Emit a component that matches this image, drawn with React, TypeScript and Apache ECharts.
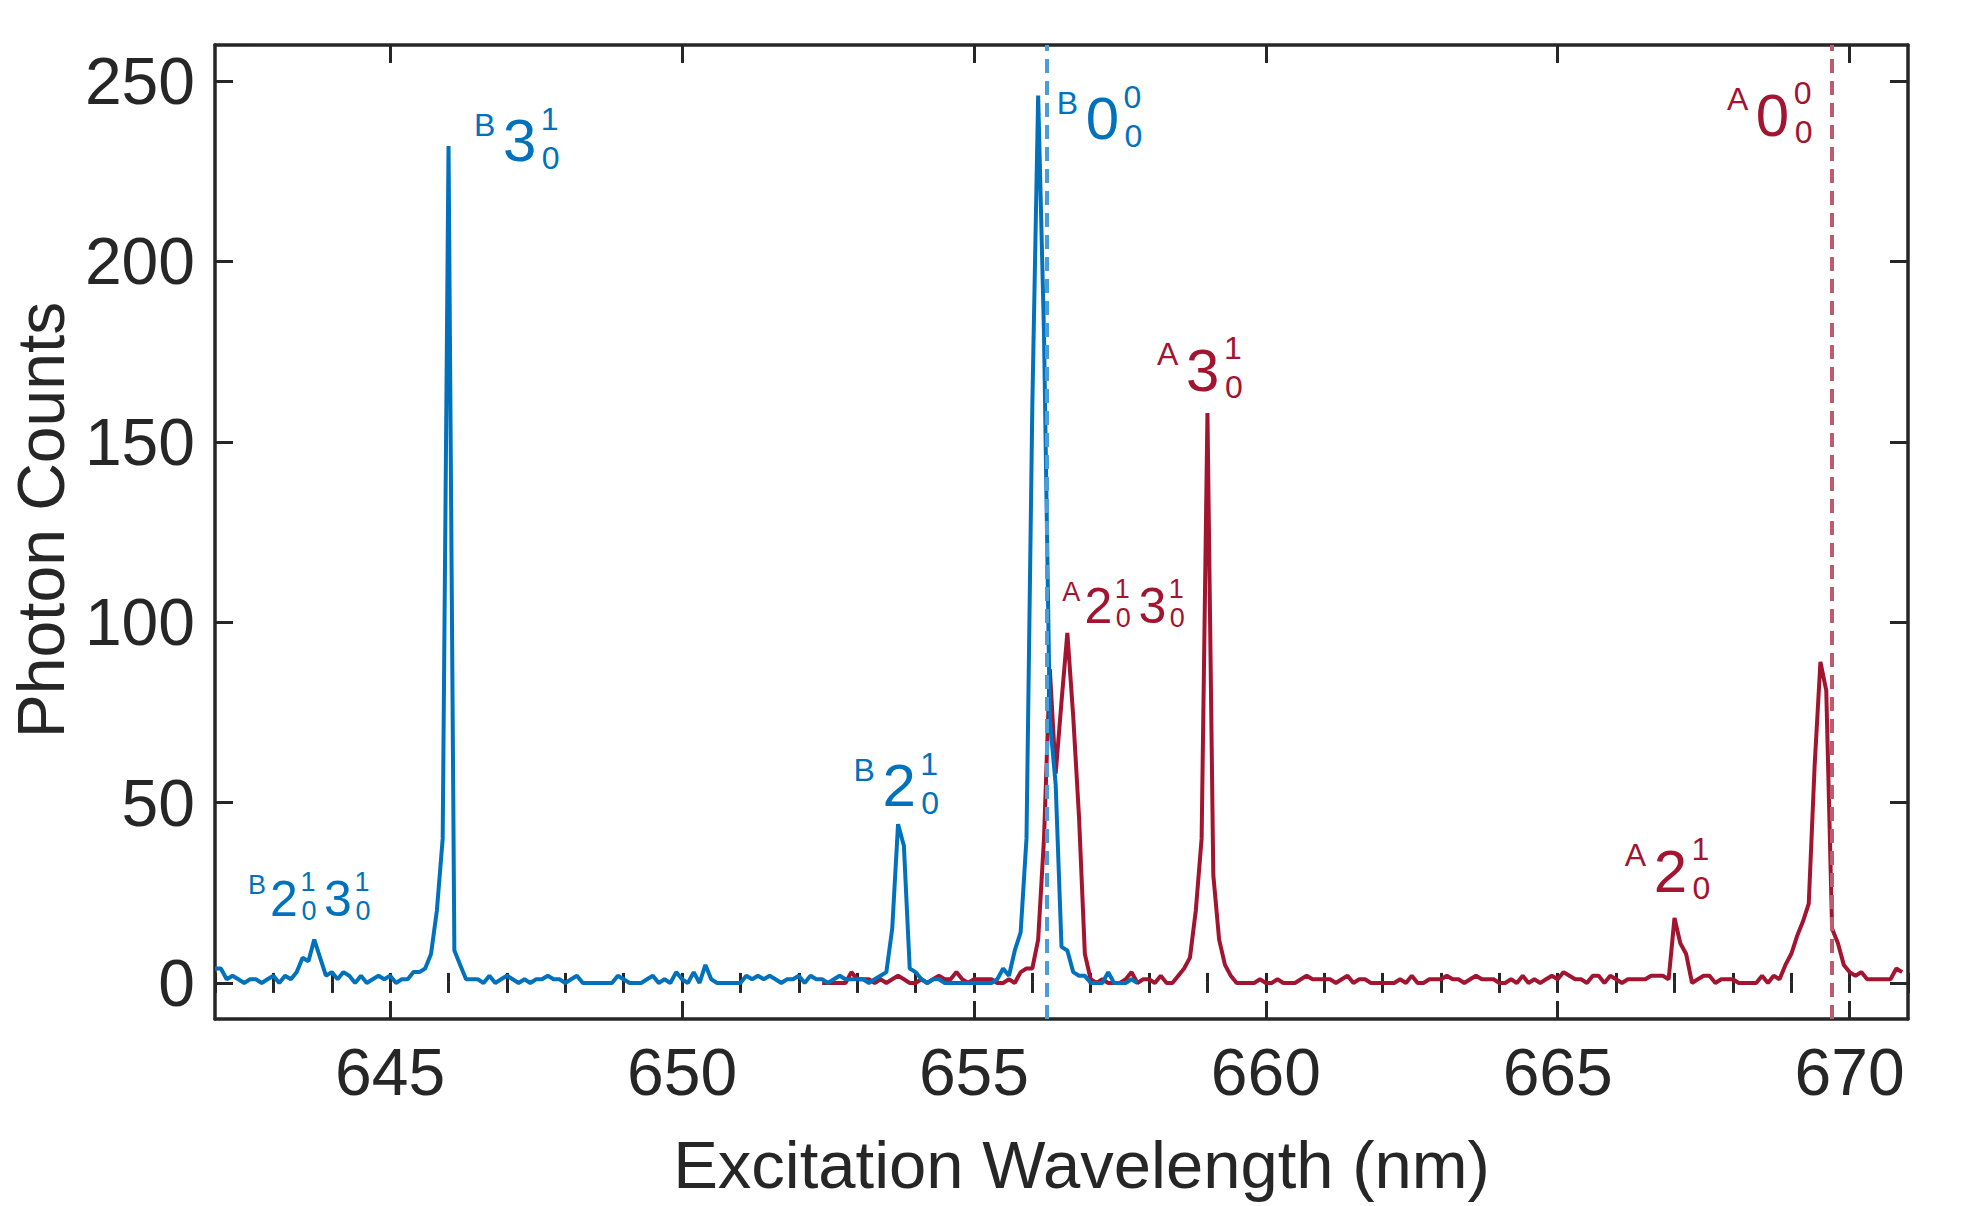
import React, { useEffect, useRef } from "react";
import * as echarts from "echarts";

// ---------- axes ----------
const X_MIN = 642;
const X_MAX = 671;
const Y_MIN = -10;
const Y_MAX = 260;
const xMajorTicks = [645, 650, 655, 660, 665, 670];
const yMajorTicks = [0, 50, 100, 150, 200, 250];

// ---------- data (photon counts on a 0.1 nm grid) ----------
const STEP = 0.1;
const blueStart = 642.0; // B-band scan
const blueCounts = [
  4, 4, 1, 2, 1, 0, 1, 1, 0, 1,
  2, 0, 2, 1, 3, 7, 6, 12, 7, 2,
  3, 1, 3, 2, 0, 2, 0, 1, 2, 1,
  2, 0, 1, 1, 3, 3, 4, 8, 20, 40,
  232, 9, 5, 1, 1, 1, 0, 2, 0, 1,
  2, 1, 0, 1, 0, 1, 1, 2, 1, 1,
  0, 1, 2, 0, 0, 0, 0, 0, 0, 2,
  1, 0, 0, 0, 1, 2, 0, 1, 0, 3,
  1, 0, 3, 0, 5, 1, 0, 0, 0, 0,
  0, 2, 1, 2, 1, 2, 1, 0, 1, 1,
  2, 0, 2, 1, 1, 0, 1, 2, 1, 1,
  1, 1, 0, 1, 2, 3, 15, 44, 38, 4,
  3, 1, 0, 1, 1, 0, 0, 0, 0, 0,
  0, 0, 0, 0, 1, 4, 2, 9, 14, 40,
  160, 246, 180, 73, 55, 10, 9, 3, 2, 2,
  0, 0, 0, 3, 0, 0, 0, 1, 0,
];
const redStart = 652.4; // A-band scan
const redCounts = [
  0, 0, 0, 0, 0, 3,
  1, 1, 1, 0, 1, 0, 1, 2, 1, 0,
  0, 1, 0, 1, 2, 1, 1, 3, 1, 0,
  1, 1, 1, 1, 0, 0, 1, 0, 3, 4,
  4, 12, 40, 87, 58, 78, 97, 74, 46, 8,
  1, 0, 1, 0, 0, 0, 1, 3, 0, 1,
  1, 0, 2, 0, 0, 2, 4, 7, 20, 40,
  158, 30, 12, 5, 2, 0, 0, 0, 0, 1,
  0, 0, 1, 0, 0, 0, 1, 2, 1, 1,
  1, 1, 0, 1, 2, 0, 1, 1, 0, 0,
  0, 0, 0, 1, 0, 2, 0, 0, 1, 1,
  1, 2, 1, 1, 0, 1, 2, 1, 1, 1,
  0, 0, 1, 0, 2, 0, 1, 0, 1, 2,
  1, 3, 2, 1, 1, 0, 2, 2, 0, 2,
  1, 0, 1, 1, 1, 1, 2, 2, 2, 1,
  18, 11, 8, 0, 1, 2, 2, 0, 1, 1,
  1, 0, 0, 0, 0, 2, 0, 2, 1, 5,
  8, 13, 17, 22, 60, 89, 81, 15, 11, 5,
  3, 2, 3, 1, 1, 1, 1, 1, 4, 3,
];

// origin (0-0 band) reference wavelengths
const blueOrigin = 656.24;
const redOrigin = 669.7;

// ---------- annotations: band letter, [main, sup, sub] groups, anchor (nm, counts) ----------
type Ann = { band: string; groups: string[][]; nm: number; counts: number; big: boolean };
const blueLabels: Ann[] = [
  { band: "B", groups: [["3", "1", "0"]], nm: 647.22, counts: 233.5, big: true },
  { band: "B", groups: [["0", "0", "0"]], nm: 657.2, counts: 239.6, big: true },
  { band: "B", groups: [["2", "1", "0"]], nm: 653.72, counts: 54.7, big: true },
  { band: "B", groups: [["2", "1", "0"], ["3", "1", "0"]], nm: 643.18, counts: 23.4, big: false },
];
const redLabels: Ann[] = [
  { band: "A", groups: [["0", "0", "0"]], nm: 668.68, counts: 240.5, big: true },
  { band: "A", groups: [["3", "1", "0"]], nm: 658.92, counts: 169.8, big: true },
  { band: "A", groups: [["2", "1", "0"], ["3", "1", "0"]], nm: 657.13, counts: 104.4, big: false },
  { band: "A", groups: [["2", "1", "0"]], nm: 666.93, counts: 30.9, big: true },
];

// ---------- styles ----------
const BLUE = "#0072BD";
const RED = "#A2142F";
const BLUE_DASH = "#4A9DD6";
const RED_DASH = "#C05A6E";
const INK = "#262626";
const FONT = "'Liberation Sans', Arial, Helvetica, sans-serif";

const toPairs = (start: number, vals: number[]) =>
  vals.map((v, i) => [Math.round((start + i * STEP) * 100) / 100, v]);

const LARGE = { main: 60, script: 32, band: 32, band_dx: -35, band_dy: -16, sup_dx: 30, sup_dy: -22, sub_dx: 31, sub_dy: 17, adv: 70 };
const SMALL = { main: 50, script: 27, band: 27, band_dx: -27, band_dy: -14, sup_dx: 24, sup_dy: -17, sub_dx: 25, sub_dy: 12, adv: 54 };

function txt(x: number, y: number, text: string, size: number, color: string) {
  return {
    type: "text",
    x,
    y,
    silent: true,
    z: 100,
    style: {
      text,
      fill: color,
      fontSize: size,
      fontFamily: FONT,
      align: "center",
      verticalAlign: "middle",
    },
  };
}

export default function App() {
  const ref = useRef<HTMLDivElement>(null);
  useEffect(() => {
    if (!ref.current) return;
    const chart = echarts.init(ref.current, undefined, { renderer: "svg" });

    const axisLine = { show: true, onZero: false, lineStyle: { color: INK, width: 3.5 } };
    const tickStyle = { color: INK, width: 3 };
    const labelStyle = { fontSize: 66, color: INK, fontFamily: FONT };

    const xCommon = { type: "value", min: X_MIN, max: X_MAX, splitLine: { show: false } };
    const yCommon = { type: "value", min: Y_MIN, max: Y_MAX, splitLine: { show: false } };

    const option: any = {
      animation: false,
      backgroundColor: "#ffffff",
      grid: { left: 212, right: 64, top: 45, bottom: 187, containLabel: false },
      xAxis: [
        {
          ...xCommon,
          position: "bottom",
          interval: 1,
          axisLine,
          axisTick: { show: true, inside: true, length: 18, customValues: xMajorTicks, lineStyle: tickStyle },
          axisLabel: { show: true, customValues: xMajorTicks, margin: 20, ...labelStyle },
          name: "Excitation Wavelength (nm)",
          nameLocation: "middle",
          nameGap: 112,
          nameTextStyle: { fontSize: 67, color: INK, fontFamily: FONT, padding: [0, 0, 0, 40] },
        },
        {
          ...xCommon,
          position: "bottom",
          interval: 1,
          axisLine: { show: false },
          axisTick: { show: true, inside: true, length: 10, lineStyle: tickStyle },
          axisLabel: { show: false },
        },
        {
          ...xCommon,
          position: "top",
          interval: 1,
          axisLine,
          axisTick: { show: true, inside: true, length: 18, customValues: xMajorTicks, lineStyle: tickStyle },
          axisLabel: { show: false },
        },
        {
          ...xCommon,
          position: "top",
          interval: 1,
          axisLine: { show: false },
          axisTick: { show: true, inside: true, length: 10, lineStyle: tickStyle },
          axisLabel: { show: false },
        },
      ],
      yAxis: [
        {
          ...yCommon,
          position: "left",
          interval: 10,
          axisLine,
          axisTick: { show: true, inside: true, length: 18, customValues: yMajorTicks, lineStyle: tickStyle },
          axisLabel: { show: true, customValues: yMajorTicks, margin: 20, ...labelStyle },
          name: "Photon Counts",
          nameLocation: "middle",
          nameGap: 133,
          nameTextStyle: { fontSize: 66, color: INK, fontFamily: FONT, padding: [0, 0, 0, 24] },
        },
        {
          ...yCommon,
          position: "right",
          interval: 10,
          axisLine,
          axisTick: { show: true, inside: true, length: 18, customValues: yMajorTicks, lineStyle: tickStyle },
          axisLabel: { show: false },
        },
      ],
      series: [
        {
          name: "A",
          type: "line",
          xAxisIndex: 0,
          yAxisIndex: 0,
          data: toPairs(redStart, redCounts),
          showSymbol: false,
          lineStyle: { color: RED, width: 4 },
          itemStyle: { color: RED },
          z: 2,
          markLine: {
            silent: true,
            symbol: "none",
            label: { show: false },
            lineStyle: { color: RED_DASH, width: 4, type: [14, 8] },
            data: [{ xAxis: redOrigin }],
          },
        },
        {
          name: "B",
          type: "line",
          xAxisIndex: 0,
          yAxisIndex: 0,
          data: toPairs(blueStart, blueCounts),
          showSymbol: false,
          lineStyle: { color: BLUE, width: 4 },
          itemStyle: { color: BLUE },
          z: 3,
          markLine: {
            silent: true,
            symbol: "none",
            label: { show: false },
            lineStyle: { color: BLUE_DASH, width: 4, type: [14, 8] },
            data: [{ xAxis: blueOrigin }],
          },
        },
      ],
    };
    chart.setOption(option);

    const graphics: any[] = [];
    const addLabels = (list: Ann[], color: string) => {
      list.forEach((a) => {
        const p = chart.convertToPixel({ xAxisIndex: 0, yAxisIndex: 0 }, [a.nm, a.counts]) as number[];
        const s = a.big ? LARGE : SMALL;
        const [cx, cy] = p;
        graphics.push(txt(cx + s.band_dx, cy + s.band_dy, a.band, s.band, color));
        a.groups.forEach((g, i) => {
          const gx = cx + i * s.adv;
          graphics.push(txt(gx, cy, g[0], s.main, color));
          graphics.push(txt(gx + s.sup_dx, cy + s.sup_dy, g[1], s.script, color));
          graphics.push(txt(gx + s.sub_dx, cy + s.sub_dy, g[2], s.script, color));
        });
      });
    };
    addLabels(blueLabels, BLUE);
    addLabels(redLabels, RED);
    chart.setOption({ graphic: graphics });

    return () => chart.dispose();
  }, []);

  return (
    <div
      ref={ref}
      style={{ position: "fixed", left: 0, top: 0, width: 1972, height: 1206, background: "#fff" }}
    />
  );
}
